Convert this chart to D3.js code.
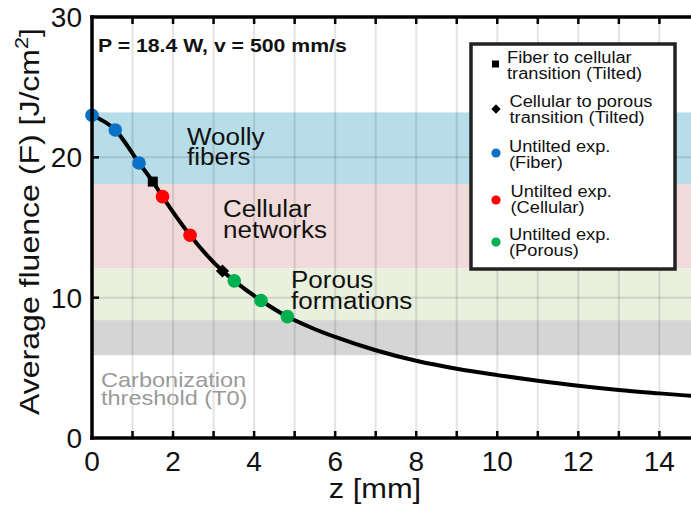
<!DOCTYPE html>
<html>
<head>
<meta charset="utf-8">
<script src="https://cdn.jsdelivr.net/npm/d3@7"></script>
<style>
  html, body { margin: 0; padding: 0; background: #fff; }
  svg { display: block; font-family: "Liberation Sans", Arial, sans-serif; }
</style>
</head>
<body>
<svg id="chart" width="691" height="506"></svg>
<script>
// Untilted experiments, grouped by the morphology they produced
const fiberZ = [0, 0.575, 1.16];
const fiberF = [23.0, 21.95, 19.6];
const cellularZ = [1.74, 2.42];
const cellularF = [17.2, 14.45];
const porousZ = [3.51, 4.17, 4.82];
const porousF = [11.2, 9.8, 8.65];

// Transitions observed on the tilted sample
const tiltFiberCellZ = [1.5];
const tiltFiberCellF = [18.27];
const tiltCellPorZ = [3.22];
const tiltCellPorF = [11.9];

// Average fluence along z
const curveZ = [0, 0.575, 1.16, 1.5, 1.74, 2.42, 3.22, 3.51, 4.17, 4.82, 5.5, 6, 7, 8, 9, 10, 11, 12, 13, 14, 14.8];
const curveF = [23.0, 21.95, 19.6, 18.27, 17.2, 14.45, 11.9, 11.2, 9.8, 8.65, 7.75, 7.2, 6.25, 5.5, 4.93, 4.48, 4.08, 3.72, 3.42, 3.18, 3.0];

// Fluence regimes (upper / lower bounds)
const regimeNames = ["fibers", "cellular", "porous", "carbonization"];
const regimeTop = [23.2, 18.1, 12.1, 8.4];
const regimeBottom = [18.1, 12.1, 8.4, 5.9];

// Axis ticks
const xTickValues = d3.range(0, 15, 1);
const xTickLabels = [0, 2, 4, 6, 8, 10, 12, 14];
const yTickValues = [0, 10, 20, 30];
const yGridValues = [10, 20];

const regimeColor = {
  fibers: "#b7dde8",
  cellular: "#f0dada",
  porous: "#e9f0de",
  carbonization: "#d5d5d5"
};
const markerColor = { fiber: "#0a72c6", cellular: "#ff0000", porous: "#00b04f" };

const svg = d3.select("#chart");
const W = 691, H = 506;
const m = { left: 92, top: 17, right: 0, bottom: 68 };
const x = d3.scaleLinear().domain([0, 14.78]).range([m.left, W - m.right]);
const y = d3.scaleLinear().domain([0, 30]).range([H - m.bottom, m.top]);

// stretch text horizontally by factor k relative to its natural width
function widen(sel, k) {
  sel.each(function () {
    const w = this.getComputedTextLength();
    d3.select(this).attr("textLength", w * k).attr("lengthAdjust", "spacingAndGlyphs");
  });
}

const plot = svg.append("g");

// regime bands
plot.selectAll("rect.band")
  .data(regimeNames)
  .join("rect")
  .attr("class", "band")
  .attr("x", x(0))
  .attr("width", x.range()[1] - x(0))
  .attr("y", (d, i) => y(regimeTop[i]))
  .attr("height", (d, i) => y(regimeBottom[i]) - y(regimeTop[i]))
  .attr("fill", d => regimeColor[d]);

// grid
plot.selectAll("line.vgrid")
  .data(xTickValues.filter(v => v > 0))
  .join("line")
  .attr("x1", d => x(d)).attr("x2", d => x(d))
  .attr("y1", y(30)).attr("y2", y(0))
  .attr("stroke", "#000").attr("stroke-opacity", 0.11).attr("stroke-width", 2);
plot.selectAll("line.hgrid")
  .data(yGridValues)
  .join("line")
  .attr("x1", x(0)).attr("x2", x.range()[1])
  .attr("y1", d => y(d)).attr("y2", d => y(d))
  .attr("stroke", "#000").attr("stroke-opacity", 0.11).attr("stroke-width", 2);

// regime labels, one text element per line
function multiLine(lines, x0, y0, lh, size, color, k) {
  const g = svg.append("g").attr("font-size", size).attr("fill", color);
  lines.forEach((s, i) => {
    const t = g.append("text").attr("x", x0).attr("y", y0 + i * lh).text(s);
    widen(t, k);
  });
  return g;
}
multiLine(["Woolly", "fibers"], 187, 145, 20, 23, "#111", 1.13);
multiLine(["Cellular", "networks"], 223, 216.5, 21, 23, "#111", 1.13);
multiLine(["Porous", "formations"], 291, 288, 20.5, 23, "#111", 1.13);
multiLine(["Carbonization", "threshold (T0)"], 101, 387, 18, 21, "#9a9a9a", 1.12);

// fluence curve
const line = d3.line()
  .x(d => x(d[0])).y(d => y(d[1]))
  .curve(d3.curveMonotoneX);
plot.append("path")
  .datum(curveZ.map((z, i) => [z, curveF[i]]))
  .attr("d", line)
  .attr("fill", "none").attr("stroke", "#000").attr("stroke-width", 4);

// tilted-sample transitions
plot.selectAll("rect.sq")
  .data(tiltFiberCellZ.map((z, i) => [z, tiltFiberCellF[i]]))
  .join("rect")
  .attr("x", d => x(d[0]) - 5).attr("y", d => y(d[1]) - 5)
  .attr("width", 10).attr("height", 10).attr("fill", "#000");
plot.selectAll("path.dia")
  .data(tiltCellPorZ.map((z, i) => [z, tiltCellPorF[i]]))
  .join("path")
  .attr("d", d3.symbol(d3.symbolDiamond2, 110)())
  .attr("transform", d => `translate(${x(d[0])},${y(d[1])})`)
  .attr("fill", "#000");

// untilted experiments
[[fiberZ, fiberF, markerColor.fiber],
 [cellularZ, cellularF, markerColor.cellular],
 [porousZ, porousF, markerColor.porous]].forEach(([zs, fs, c]) => {
  plot.append("g").selectAll("circle")
    .data(zs.map((z, i) => [z, fs[i]]))
    .join("circle")
    .attr("cx", d => x(d[0])).attr("cy", d => y(d[1]))
    .attr("r", 6.8).attr("fill", c);
});

// axes frame
const frame = svg.append("g").attr("stroke", "#000").attr("stroke-linecap", "square");
frame.append("line").attr("x1", x(0)).attr("x2", W).attr("y1", y(0)).attr("y2", y(0)).attr("stroke-width", 3.5);
frame.append("line").attr("x1", x(0)).attr("x2", W).attr("y1", y(30)).attr("y2", y(30)).attr("stroke-width", 3.5);
frame.append("line").attr("x1", x(0)).attr("x2", x(0)).attr("y1", y(0)).attr("y2", y(30)).attr("stroke-width", 3.5);

// ticks (inward)
frame.selectAll("line.xtb").data(xTickValues.filter(v => v > 0)).join("line")
  .attr("x1", d => x(d)).attr("x2", d => x(d))
  .attr("y1", y(0)).attr("y2", y(0) - 7).attr("stroke-width", 2.5).attr("stroke-linecap", "butt");
frame.selectAll("line.xtt").data(xTickValues.filter(v => v > 0)).join("line")
  .attr("x1", d => x(d)).attr("x2", d => x(d))
  .attr("y1", y(30)).attr("y2", y(30) + 7).attr("stroke-width", 2.5).attr("stroke-linecap", "butt");
frame.selectAll("line.yt").data(yTickValues.filter(v => v > 0 && v < 30)).join("line")
  .attr("x1", x(0)).attr("x2", x(0) + 7)
  .attr("y1", d => y(d)).attr("y2", d => y(d)).attr("stroke-width", 2.5).attr("stroke-linecap", "butt");

// tick labels
svg.append("g").selectAll("text").data(xTickLabels).join("text")
  .attr("x", d => x(d)).attr("y", y(0) + 33)
  .attr("text-anchor", "middle").attr("font-size", 28).attr("fill", "#111")
  .text(d => d);
svg.append("g").selectAll("text").data(yTickValues).join("text")
  .attr("x", 82).attr("y", d => y(d) + 10)
  .attr("text-anchor", "end").attr("font-size", 28).attr("fill", "#111")
  .text(d => d);

// axis titles
const xt = svg.append("text")
  .attr("x", 375).attr("y", 498)
  .attr("text-anchor", "middle").attr("font-size", 28).attr("fill", "#111")
  .text("z [mm]");
widen(xt, 1.1);

const yt = svg.append("text")
  .attr("transform", "translate(39,221.5) rotate(-90)")
  .attr("text-anchor", "middle").attr("font-size", 28).attr("fill", "#111");
yt.append("tspan").text("Average fluence (F) [J/cm");
yt.append("tspan").attr("font-size", 19).attr("dy", -11).text("2");
yt.append("tspan").attr("dy", 11).text("]");
{
  const w = yt.node().getComputedTextLength();
  yt.selectAll("tspan").each(function () {
    const l = this.getComputedTextLength();
    d3.select(this).attr("textLength", l * 387 / w).attr("lengthAdjust", "spacingAndGlyphs");
  });
}

// process parameters
const pt = svg.append("text")
  .attr("x", 98).attr("y", 51.5)
  .attr("font-size", 18).attr("font-weight", "bold").attr("fill", "#111")
  .text("P = 18.4 W, v = 500 mm/s");
widen(pt, 1.18);

// legend
const lg = svg.append("g");
lg.append("rect")
  .attr("x", 471).attr("y", 44).attr("width", 204).attr("height", 225)
  .attr("fill", "#fff").attr("stroke", "#222").attr("stroke-width", 3.5);

const legendItems = [
  { kind: "square", lines: ["Fiber to cellular", "transition (Tilted)"], cy: 64, tx: 507, ty: 62.5 },
  { kind: "diamond", lines: ["Cellular to porous", "transition (Tilted)"], cy: 109, tx: 509.5, ty: 106.5 },
  { kind: "fiber", lines: ["Untilted exp.", "(Fiber)"], cy: 153, tx: 509, ty: 151.5 },
  { kind: "cellular", lines: ["Untilted exp.", "(Cellular)"], cy: 200, tx: 510.5, ty: 196.5 },
  { kind: "porous", lines: ["Untilted exp.", "(Porous)"], cy: 242, tx: 509, ty: 240 }
];
legendItems.forEach(it => {
  if (it.kind === "square") {
    lg.append("rect").attr("x", 492).attr("y", it.cy - 3.5).attr("width", 7).attr("height", 7).attr("fill", "#000");
  } else if (it.kind === "diamond") {
    lg.append("path").attr("d", d3.symbol(d3.symbolDiamond2, 55)())
      .attr("transform", `translate(496,${it.cy})`).attr("fill", "#000");
  } else {
    lg.append("circle").attr("cx", 496).attr("cy", it.cy).attr("r", 4.6).attr("fill", markerColor[it.kind]);
  }
  it.lines.forEach((s, i) => {
    const t = lg.append("text").attr("font-size", 16).attr("fill", "#111")
      .attr("x", it.tx).attr("y", it.ty + i * 16).text(s);
    widen(t, 1.14);
  });
});
</script>
</body>
</html>
